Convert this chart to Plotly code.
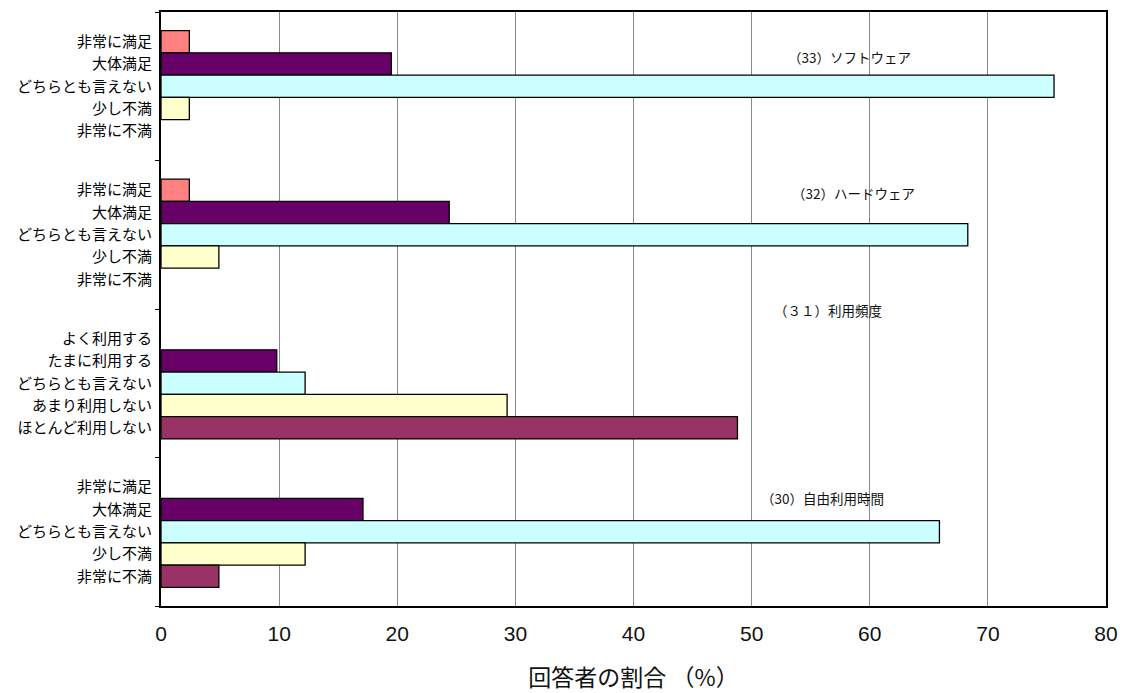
import plotly.graph_objects as go

# Survey questions, listed top to bottom
groups = ["（33）ソフトウェア", "（32）ハードウェア", "（３１）利用頻度", "（30）自由利用時間"]

satisfaction_labels = ["非常に満足", "大体満足", "どちらとも言えない", "少し不満", "非常に不満"]
usage_labels = ["よく利用する", "たまに利用する", "どちらとも言えない", "あまり利用しない", "ほとんど利用しない"]
row_labels = [satisfaction_labels, satisfaction_labels, usage_labels, satisfaction_labels]

# Share of respondents (%) per answer, in row order
software = [2.4, 19.5, 75.6, 2.4, 0.0]
hardware = [2.4, 24.4, 68.3, 4.9, 0.0]
usage_frequency = [0.0, 9.8, 12.2, 29.3, 48.8]
free_time = [0.0, 17.1, 65.9, 12.2, 4.9]
group_values = [software, hardware, usage_frequency, free_time]

x_ticks = [0, 10, 20, 30, 40, 50, 60, 70, 80]

slot_colors = ["#FF8080", "#660066", "#CCFFFF", "#FFFFCC", "#993366"]

BARGAP = 0.25
n_slots = len(slot_colors)
slot_w = (1 - BARGAP) / n_slots
group_pos = list(range(len(groups)))

fig = go.Figure()
for j in range(n_slots):
    xs = [vals[j] for vals in group_values]
    fig.add_trace(go.Bar(
        x=xs,
        y=group_pos,
        orientation="h",
        marker=dict(color=slot_colors[j],
                    # empty answers get no outline so nothing is drawn for them
                    line=dict(color="#000000", width=[1.3 if v > 0 else 0 for v in xs])),
        showlegend=False,
        hoverinfo="skip",
    ))

# Row labels sit on the y axis at the centre of each bar slot
tickvals, ticktext = [], []
for g, labels in zip(group_pos, row_labels):
    for j, lab in enumerate(labels):
        tickvals.append(g + (j - (n_slots - 1) / 2) * slot_w)
        ticktext.append(lab)

# Question titles written inside the plot area
title_spots = [(58.3, -0.20), (58.6, 0.72), (56.5, 1.51), (56.0, 2.77)]
for text, (tx, ty) in zip(groups, title_spots):
    fig.add_annotation(x=tx, y=ty, xref="x", yref="y", text=text, showarrow=False,
                       font=dict(family="Noto Sans CJK JP", size=13.5, color="#111111"))

fig.update_layout(
    width=1122, height=693,
    margin=dict(l=161, r=16, t=12, b=87),
    paper_bgcolor="white", plot_bgcolor="white",
    barmode="group", bargap=BARGAP, bargroupgap=0,
    font=dict(family="Noto Sans CJK JP", color="#000000"),
    xaxis=dict(
        range=[0, 80], tickvals=x_ticks, ticktext=[str(v) for v in x_ticks],
        showgrid=True, gridcolor="#8a8a8a", gridwidth=1, zeroline=False,
        showline=True, linecolor="#000000", linewidth=2, mirror=True,
        ticks="", tickfont=dict(family="Liberation Sans", size=21, color="#111111"),
        ticklabelstandoff=8, automargin=False,
        title=dict(text="回答者の割合 （%）", standoff=28,
                   font=dict(family="Noto Sans CJK JP", size=23, color="#111111")),
        fixedrange=True,
    ),
    yaxis=dict(
        range=[len(groups) - 0.5, -0.5],
        tickmode="array", tickvals=tickvals, ticktext=ticktext,
        ticks="", showgrid=False, zeroline=False,
        showline=True, linecolor="#000000", linewidth=2, mirror=True,
        tickfont=dict(family="Noto Sans CJK JP", size=15, color="#000000"),
        ticklabelstandoff=4, automargin=False,
        minor=dict(tickmode="array", tickvals=[g - 0.5 for g in group_pos] + [len(groups) - 0.5],
                   ticks="outside", ticklen=4, tickwidth=1, tickcolor="#000000", showgrid=False),
        fixedrange=True,
    ),
)

fig.write_html("out.html")
